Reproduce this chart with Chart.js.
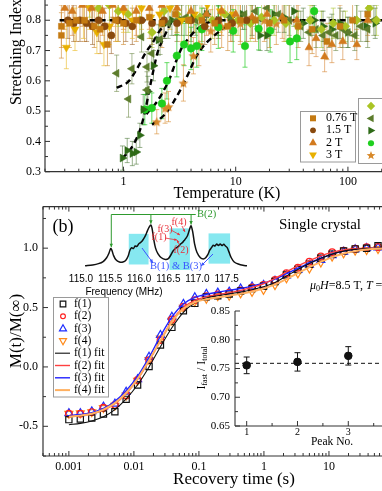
<!DOCTYPE html>
<html><head><meta charset="utf-8">
<script src="https://cdn.jsdelivr.net/npm/chart.js@4/dist/chart.umd.min.js"></script>
<style>
html,body{margin:0;padding:0;background:#fff;overflow:hidden;width:382px;height:491px;}
canvas{position:absolute;left:0;top:0;}
</style></head><body>
<canvas id="cA" width="460" height="491"></canvas>
<canvas id="cB" width="460" height="491"></canvas>
<canvas id="cS" width="460" height="491"></canvas>
<canvas id="cI" width="460" height="491"></canvas>
<script>
// ================= DATA : panel (a) =================
const aTickValsX = [1, 10, 100];
const aTickLabelsX = ['1', '10', '100'];
const aTickValsY = [0.3, 0.4, 0.5, 0.6, 0.7, 0.8];
const aTickLabelsY = ['0.3', '0.4', '0.5', '0.6', '0.7', '0.8'];
const aLegendLabels = ['0.76 T', '1.5 T', '2 T', '3 T'];

const t076 = [0.28,0.28,0.33,0.38,0.45,0.55,0.62,0.72,0.85,1.0,1.3,1.7,2.2,2.9,3.8,5.0,6.5,8.5,11,15,20,27,36,48,65,85,110,150];
const v076 = [0.75,0.78,0.79,0.80,0.80,0.78,0.77,0.72,0.80,0.79,0.80,0.81,0.79,0.82,0.80,0.80,0.79,0.78,0.80,0.80,0.79,0.80,0.78,0.77,0.73,0.78,0.80,0.82];
const e076 = [0.075,0.07,0.08,0.07,0.07,0.07,0.08,0.07,0.07,0.07,0.07,0.07,0.08,0.07,0.08,0.07,0.07,0.08,0.07,0.07,0.08,0.07,0.07,0.08,0.06,0.07,0.07,0.07];

const t15 = [0.32,0.36,0.41,0.47,0.53,0.60,0.68,0.78,0.90,1.05,1.20,1.45,1.80,2.30,3.00,4.00,5.30,7.00,9.30,12.5];
const v15 = [0.80,0.79,0.80,0.79,0.78,0.80,0.78,0.75,0.80,0.79,0.78,0.80,0.79,0.80,0.79,0.80,0.78,0.80,0.79,0.80];
const e15 = [0.06,0.06,0.07,0.06,0.06,0.07,0.06,0.06,0.07,0.06,0.06,0.06,0.07,0.06,0.06,0.07,0.06,0.06,0.06,0.07];

const t2 = [0.30,0.35,0.43,0.52,0.65,0.80,1.0,1.3,1.7,2.2,3.0,4.0,5.5,7.5,10,14,19,26,35,45,52,62,72,90,120,150];
const v2 = [0.84,0.83,0.85,0.84,0.83,0.85,0.84,0.83,0.84,0.85,0.84,0.83,0.82,0.83,0.82,0.81,0.82,0.81,0.80,0.71,0.74,0.68,0.72,0.73,0.72,0.80];
const e2 = [0.07,0.08,0.07,0.07,0.08,0.07,0.07,0.08,0.07,0.07,0.08,0.07,0.07,0.08,0.07,0.07,0.08,0.07,0.07,0.06,0.06,0.05,0.06,0.06,0.05,0.07];

const t3 = [0.31,0.37,0.44,0.50,0.58,0.67,0.75,0.88,1.0,1.2,1.45,1.75,2.1,2.6,3.3,4.3,5.6,7.3,9.5];
const v3 = [0.71,0.77,0.80,0.84,0.76,0.72,0.78,0.80,0.83,0.80,0.84,0.81,0.82,0.84,0.80,0.82,0.85,0.83,0.82];
const e3 = [0.07,0.07,0.06,0.07,0.07,0.07,0.06,0.07,0.07,0.06,0.07,0.07,0.06,0.07,0.07,0.06,0.07,0.07,0.06];

const tDia = [0.50,0.60,0.75,0.90,1.1,1.4,1.8,2.3,3.0,3.8,4.8,6.2,8.0,10.5,13.5,17,22,28,36,46,58,74,95,120,155,180];
const vDia = [0.86,0.84,0.85,0.83,0.82,0.80,0.76,0.83,0.82,0.80,0.81,0.80,0.82,0.80,0.79,0.81,0.80,0.79,0.78,0.80,0.77,0.79,0.78,0.80,0.84,0.80];
const eDia = [0.05,0.06,0.05,0.05,0.06,0.05,0.05,0.05,0.06,0.05,0.05,0.06,0.05,0.05,0.06,0.05,0.05,0.06,0.05,0.05,0.06,0.05,0.05,0.06,0.05,0.05];

const tLt = [0.87,1.11,1.19,1.45,1.62,1.62,1.79,2.12,2.5,3.0,3.6,4.4,5.5,7.0,9.0,12,15,19,24,30,38,45,52,60,68,78,90,100,115,130,150,170];
const vLt = [0.625,0.54,0.64,0.745,0.57,0.646,0.69,0.737,0.79,0.80,0.81,0.80,0.82,0.80,0.81,0.82,0.83,0.84,0.82,0.80,0.78,0.76,0.77,0.75,0.76,0.75,0.77,0.76,0.75,0.78,0.77,0.80];
const eLt = [0.06,0.06,0.05,0.05,0.06,0.05,0.05,0.05,0.05,0.05,0.06,0.05,0.05,0.05,0.06,0.05,0.05,0.05,0.06,0.05,0.05,0.05,0.06,0.05,0.05,0.05,0.06,0.05,0.05,0.05,0.06,0.05];

const tRt = [0.98,1.08,1.2,1.3,1.4,1.5,1.65,1.85,2.05,2.3,2.7,3.3,4.2,5.5,7.0,9.0,11.5,14,16.5,19,22,27,33,40,50,60,72,85,100,120,145,175];
const vRt = [0.345,0.37,0.36,0.365,0.42,0.505,0.565,0.65,0.735,0.79,0.80,0.80,0.81,0.82,0.80,0.81,0.82,0.80,0.75,0.75,0.82,0.81,0.83,0.79,0.80,0.78,0.77,0.79,0.76,0.80,0.78,0.79];
const eRt = [0.04,0.04,0.04,0.04,0.04,0.05,0.05,0.05,0.05,0.05,0.05,0.05,0.05,0.05,0.05,0.05,0.05,0.05,0.05,0.05,0.05,0.05,0.05,0.05,0.05,0.05,0.05,0.05,0.05,0.05,0.05,0.05];

const tGc = [1.55,1.79,2.2,2.44,2.99,3.47,4.0,4.5,5.0,7.0,9.5,12.1,16,20.3,30.5,35,50];
const vGc = [0.505,0.51,0.525,0.60,0.683,0.72,0.707,0.715,0.77,0.777,0.765,0.715,0.772,0.765,0.73,0.74,0.83];
const eGc = [0.05,0.05,0.05,0.06,0.07,0.07,0.07,0.07,0.07,0.07,0.07,0.07,0.07,0.07,0.07,0.07,0.07];

const tSt = [1.98,2.35,2.52,3.42,4.2,4.7,6.0,7.5,9.0,11,14,18,23,30];
const vSt = [0.465,0.51,0.515,0.593,0.683,0.72,0.765,0.78,0.80,0.79,0.81,0.80,0.79,0.80];
const eSt = [0.04,0.05,0.05,0.06,0.06,0.07,0.07,0.07,0.07,0.07,0.07,0.07,0.07,0.07];

// dashed guide curves (panel a)
const dHorT = [0.27, 350];       const dHorV = [0.8, 0.8];
const dLtT = [0.87,1.11,1.32,1.56,1.85,2.1,2.44,2.6]; const dLtV = [0.577,0.598,0.64,0.69,0.73,0.765,0.79,0.8];
const dRtT = [0.97,1.03,1.23,1.41,1.56,1.7,1.85,2.0,2.27,2.55,2.75]; const dRtV = [0.345,0.353,0.39,0.44,0.5,0.57,0.635,0.69,0.74,0.78,0.8];
const dGcT = [1.6,1.98,2.27,2.6,2.89,3.32,3.8,4.5,5.5,6.6]; const dGcV = [0.49,0.53,0.566,0.61,0.657,0.71,0.74,0.77,0.79,0.8];
const dStT = [1.8,2.35,2.79,3.32,3.8,4.35,5.17,6.33,7.8,9.5]; const dStV = [0.455,0.49,0.53,0.58,0.625,0.673,0.715,0.747,0.774,0.8];

// ================= DATA : panel (b) =================
const bTickValsX = [0.001, 0.01, 0.1, 1, 10, 100];
const bTickLabelsX = ['0.001', '0.01', '0.1', '1', '10', '100'];
const bTickValsY = [-0.5, 0, 0.5, 1.0];
const bTickLabelsY = ['-0.5', '0.0', '0.5', '1.0'];
const bLegendLabels = ['f(1)', 'f(2)', 'f(3)', 'f(4)', 'f(1) fit', 'f(2) fit', 'f(3) fit', 'f(4) fit'];

const recTime = [0.001,0.0015,0.00225,0.0034,0.0051,0.0076,0.0114,0.0171,0.0256,0.0384,0.0577,0.0865,0.13,0.195,0.292,0.438,0.657,0.985,1.48,2.22,3.33,5.0,7.5,11.2,16.8,25.3,37.9,56.8];
const mf1 = [-0.444,-0.438,-0.43,-0.397,-0.378,-0.273,-0.152,0.003,0.184,0.333,0.473,0.535,0.59,0.60,0.614,0.64,0.66,0.68,0.72,0.775,0.82,0.865,0.915,0.95,0.977,0.994,1.0,1.02];
const mf2 = [-0.394,-0.394,-0.38,-0.343,-0.32,-0.24,-0.11,0.057,0.226,0.40,0.507,0.563,0.595,0.61,0.625,0.645,0.67,0.69,0.732,0.789,0.836,0.887,0.93,0.966,0.98,0.995,1.008,1.01];
const mf3 = [-0.39,-0.39,-0.375,-0.335,-0.31,-0.21,-0.105,0.085,0.268,0.422,0.53,0.586,0.614,0.625,0.633,0.66,0.676,0.69,0.725,0.77,0.815,0.86,0.90,0.94,0.97,0.99,1.0,1.005];
const mf4 = [-0.394,-0.39,-0.38,-0.345,-0.325,-0.24,-0.115,0.06,0.24,0.39,0.50,0.549,0.575,0.597,0.60,0.62,0.633,0.65,0.69,0.747,0.789,0.83,0.88,0.93,0.957,0.98,0.985,0.994];

const fitTime = [0.001,0.0015,0.00225,0.0034,0.0051,0.0076,0.0114,0.0171,0.0256,0.0384,0.0577,0.0865,0.13,0.195,0.292,0.438,0.657,0.985,1.48,2.22,3.33,5.0,7.5,11.2,16.8,25.3,37.9,56.8,128,300];
const fit1 = [-0.487,-0.475,-0.455,-0.42,-0.36,-0.27,-0.15,0.0,0.17,0.33,0.46,0.54,0.58,0.60,0.615,0.63,0.65,0.675,0.71,0.765,0.82,0.87,0.915,0.95,0.975,0.99,0.997,1.0,1.0,1.0];
const fit2 = [-0.417,-0.41,-0.395,-0.365,-0.31,-0.225,-0.105,0.05,0.22,0.39,0.50,0.56,0.59,0.61,0.625,0.645,0.67,0.70,0.745,0.80,0.85,0.895,0.935,0.965,0.985,0.995,1.0,1.0,1.0,1.0];
const fit3 = [-0.41,-0.40,-0.385,-0.35,-0.29,-0.20,-0.08,0.08,0.26,0.42,0.53,0.585,0.612,0.63,0.645,0.66,0.68,0.705,0.74,0.785,0.83,0.875,0.915,0.95,0.975,0.99,0.998,1.0,1.0,1.0];
const fit4 = [-0.42,-0.41,-0.395,-0.36,-0.305,-0.22,-0.10,0.055,0.22,0.38,0.49,0.545,0.57,0.585,0.60,0.615,0.635,0.66,0.695,0.74,0.79,0.84,0.885,0.925,0.955,0.975,0.988,0.995,1.0,1.0];

// spectrum inset
const specTickVals = [115.0, 115.5, 116.0, 116.5, 117.0, 117.5];
const specTickLabels = ['115.0', '115.5', '116.0', '116.5', '117.0', '117.5'];
const freqMHz = [115.07,115.2,115.3,115.38,115.44,115.48,115.51,115.53,115.56,115.6,115.66,115.72,115.77,115.81,115.84,115.87,115.9,115.93,115.96,115.99,116.02,116.05,116.08,116.11,116.14,116.17,116.2,116.22,116.25,116.28,116.32,116.38,116.45,116.5,116.54,116.58,116.62,116.65,116.68,116.71,116.74,116.77,116.8,116.83,116.86,116.89,116.92,116.95,116.99,117.05,117.1,117.14,117.18,117.21,117.24,117.27,117.3,117.33,117.36,117.39,117.42,117.45,117.48,117.51,117.54,117.58,117.63,117.7,117.78,117.85];
const specInt = [0.03,0.05,0.08,0.13,0.22,0.33,0.44,0.40,0.27,0.17,0.12,0.12,0.16,0.26,0.40,0.46,0.44,0.50,0.49,0.55,0.58,0.62,0.68,0.76,0.86,0.95,1.0,0.92,0.65,0.45,0.32,0.22,0.18,0.20,0.28,0.38,0.44,0.47,0.50,0.55,0.58,0.63,0.68,0.75,0.88,0.98,0.82,0.55,0.35,0.22,0.19,0.22,0.30,0.40,0.46,0.52,0.50,0.55,0.51,0.55,0.51,0.54,0.50,0.46,0.36,0.22,0.12,0.07,0.04,0.03];
const specBoxes = [[115.82,116.16],[116.52,116.87],[117.19,117.56]];

// I_fast / I_total inset
const peakNo = [1, 2, 3];
const fastRatio = [0.7555, 0.7615, 0.772];
const fastErr = [0.0145, 0.016, 0.016];
const fastMean = [0.759];
const iTickValsY = [0.65, 0.70, 0.75, 0.80, 0.85];
const iTickLabelsY = ['0.65', '0.70', '0.75', '0.80', '0.85'];
const iTickValsX = [1, 2, 3, 4];
const iTickLabelsX = ['1', '2', '3', '4'];

// ================= helpers =================
const SERIF = '"Liberation Serif","DejaVu Serif",serif';
const SANS = '"Liberation Sans","DejaVu Sans",sans-serif';
const pts = (X, Y) => X.map((x, i) => ({x, y: Y[i]}));

function drawMarker(ctx, style, x, y, r, rot, fill, stroke, lw) {
  ctx.save(); ctx.translate(x, y); ctx.rotate((rot || 0) * Math.PI / 180);
  ctx.beginPath();
  if (style === 'rect') ctx.rect(-r * 0.75, -r * 0.75, r * 1.5, r * 1.5);
  else if (style === 'circle') ctx.arc(0, 0, r * 0.85, 0, Math.PI * 2);
  else if (style === 'triangle') { ctx.moveTo(0, -r); ctx.lineTo(r * 0.9, r * 0.6); ctx.lineTo(-r * 0.9, r * 0.6); ctx.closePath(); }
  else if (style === 'rectRot') { ctx.moveTo(0, -r); ctx.lineTo(r, 0); ctx.lineTo(0, r); ctx.lineTo(-r, 0); ctx.closePath(); }
  else if (style === 'star') { for (let i = 0; i < 10; i++) { const a = -Math.PI / 2 + i * Math.PI / 5; const rr = i % 2 ? r * 0.45 : r * 1.05; ctx.lineTo(Math.cos(a) * rr, Math.sin(a) * rr); } ctx.closePath(); }
  if (fill) { ctx.fillStyle = fill; ctx.fill(); }
  if (stroke) { ctx.strokeStyle = stroke; ctx.lineWidth = lw; ctx.stroke(); }
  ctx.restore();
}
function starImage(color) {
  const c = document.createElement('canvas'); c.width = 11; c.height = 11;
  drawMarker(c.getContext('2d'), 'star', 5.5, 6, 5, 0, color, null, 0);
  return c;
}
function text(ctx, s, x, y, font, color, align, rot) {
  ctx.save(); ctx.font = font; ctx.fillStyle = color || '#000';
  ctx.textAlign = align || 'center'; ctx.textBaseline = 'middle';
  ctx.translate(x, y); if (rot) ctx.rotate(rot); ctx.fillText(s, 0, 0); ctx.restore();
}
function richText(ctx, segs, x, y, color, align, rot) {
  ctx.save(); ctx.fillStyle = color || '#000'; ctx.textBaseline = 'middle';
  ctx.translate(x, y); if (rot) ctx.rotate(rot);
  let w = 0; segs.forEach(s => { ctx.font = s.f; w += ctx.measureText(s.t).width; });
  let cx = align === 'left' ? 0 : -w / 2;
  segs.forEach(s => { ctx.font = s.f; ctx.textAlign = 'left'; ctx.fillText(s.t, cx, s.dy || 0); cx += ctx.measureText(s.t).width; });
  ctx.restore();
}
function line(ctx, x1, y1, x2, y2, color, lw) {
  ctx.save(); ctx.strokeStyle = color; ctx.lineWidth = lw; ctx.beginPath(); ctx.moveTo(x1, y1); ctx.lineTo(x2, y2); ctx.stroke(); ctx.restore();
}
function arrow(ctx, x1, y1, x2, y2, color, lw, head) {
  line(ctx, x1, y1, x2, y2, color, lw);
  if (head) {
    const a = Math.atan2(y2 - y1, x2 - x1);
    ctx.save(); ctx.fillStyle = color; ctx.beginPath(); ctx.moveTo(x2, y2);
    ctx.lineTo(x2 - head * Math.cos(a - 0.45), y2 - head * Math.sin(a - 0.45));
    ctx.lineTo(x2 - head * Math.cos(a + 0.45), y2 - head * Math.sin(a + 0.45));
    ctx.closePath(); ctx.fill(); ctx.restore();
  }
}
function logTicks(min, max) {
  const r = [];
  for (let e = Math.floor(Math.log10(min)); e <= Math.ceil(Math.log10(max)); e++)
    for (let k = 1; k < 10; k++) { const v = k * Math.pow(10, e); if (v >= min && v <= max) r.push([v, k === 1]); }
  return r;
}
const errorBars = {
  id: 'errorBars',
  beforeDatasetsDraw(chart) {
    const ctx = chart.ctx, xs = chart.scales.x, ys = chart.scales.y, a = chart.chartArea;
    ctx.save(); ctx.beginPath(); ctx.rect(a.left - 5, a.top, a.right - a.left + 10, a.bottom - a.top + 5); ctx.clip();
    chart.data.datasets.forEach(ds => {
      if (!ds.errs) return;
      ctx.strokeStyle = ds.errColor; ctx.lineWidth = ds.errWidth || 1;
      ds.data.forEach((p, j) => {
        const e = ds.errs[j], x = xs.getPixelForValue(p.x);
        const y1 = ys.getPixelForValue(p.y - e), y2 = ys.getPixelForValue(p.y + e), c = ds.capW || 2.5;
        ctx.beginPath(); ctx.moveTo(x, y1); ctx.lineTo(x, y2);
        ctx.moveTo(x - c, y1); ctx.lineTo(x + c, y1); ctx.moveTo(x - c, y2); ctx.lineTo(x + c, y2); ctx.stroke();
      });
    });
    ctx.restore();
  }
};
function makeChart(id, pad, xs, ys, datasets, plugins) {
  return new Chart(document.getElementById(id), {
    type: 'scatter',
    data: {datasets},
    options: {
      responsive: false, animation: false, devicePixelRatio: 1, events: [],
      layout: {padding: pad},
      plugins: {legend: {display: false}, tooltip: {enabled: false}, title: {display: false}},
      scales: {x: Object.assign({display: false}, xs), y: Object.assign({display: false}, ys)}
    },
    plugins: [errorBars].concat(plugins || [])
  });
}

// ================= panel (a) =================
const aSeries = [
  {T: t076, V: v076, E: e076, style: 'rect', rot: 0, r: 4.2, col: '#C47A12', ec: 'rgba(205,135,45,0.6)'},
  {T: t15, V: v15, E: e15, style: 'circle', rot: 0, r: 3.6, col: '#8A4A0E', ec: 'rgba(150,90,30,0.55)'},
  {T: t2, V: v2, E: e2, style: 'triangle', rot: 0, r: 4.6, col: '#D27A1E', ec: 'rgba(215,135,55,0.6)'},
  {T: t3, V: v3, E: e3, style: 'triangle', rot: 180, r: 4.6, col: '#E8B000', ec: 'rgba(235,190,50,0.65)'},
  {T: tDia, V: vDia, E: eDia, style: 'rectRot', rot: 0, r: 4.4, col: '#AAC424', ec: 'rgba(170,196,50,0.6)'},
  {T: tLt, V: vLt, E: eLt, style: 'triangle', rot: -90, r: 4.6, col: '#5C7C2C', ec: 'rgba(100,130,60,0.55)'},
  {T: tRt, V: vRt, E: eRt, style: 'triangle', rot: 90, r: 4.6, col: '#2E6A17', ec: 'rgba(70,115,50,0.55)'},
  {T: tGc, V: vGc, E: eGc, style: 'circle', rot: 0, r: 3.8, col: '#1FD01F', ec: 'rgba(40,205,40,0.7)'},
  {T: tSt, V: vSt, E: eSt, style: 'star', rot: 0, r: 4.6, col: '#D8892A', ec: 'rgba(215,140,50,0.6)'}
];
const aDatasets = aSeries.map(s => ({
  data: pts(s.T, s.V), errs: s.E, errColor: s.ec, capW: 2.5,
  pointStyle: s.style === 'star' ? starImage(s.col) : s.style, rotation: s.rot,
  pointRadius: s.r, backgroundColor: s.col, borderColor: s.col, borderWidth: 0.5, showLine: false
}));
[[dHorT, dHorV], [dLtT, dLtV], [dRtT, dRtV], [dGcT, dGcV], [dStT, dStV]].forEach(([T, V]) => {
  aDatasets.push({type: 'line', data: pts(T, V), borderColor: '#000', borderWidth: 2.4, borderDash: [6, 4],
    pointRadius: 0, fill: false, cubicInterpolationMode: 'monotone'});
});
const aDecor = {
  id: 'aDecor',
  afterDraw(chart) {
    const ctx = chart.ctx, xs = chart.scales.x, ys = chart.scales.y, a = chart.chartArea;
    const ax = '#333';
    line(ctx, a.left, 0, a.left, a.bottom, ax, 1.2);
    line(ctx, a.left, a.bottom, a.right, a.bottom, ax, 1.2);
    logTicks(0.2, 350).forEach(([v, maj]) => { const x = xs.getPixelForValue(v); line(ctx, x, a.bottom, x, a.bottom - (maj ? 5 : 3), ax, 1); });
    for (let k = 0; k < 12; k++) { const v = 0.3 + k * 0.05; const y = ys.getPixelForValue(v); line(ctx, a.left, y, a.left + (k % 2 ? 3 : 5), y, ax, 1); }
    aTickValsX.forEach((v, i) => text(ctx, aTickLabelsX[i], xs.getPixelForValue(v), a.bottom + 10, '12px ' + SERIF, '#000'));
    aTickValsY.forEach((v, i) => text(ctx, aTickLabelsY[i], a.left - 4, ys.getPixelForValue(v), '12px ' + SERIF, '#000', 'right'));
    text(ctx, 'Temperature (K)', 227, 194, '16px ' + SERIF, '#000');
    text(ctx, 'Stretching Index', 17, 52, '16px ' + SERIF, '#000', 'center', -Math.PI / 2);
    // legend boxes
    ctx.save(); ctx.strokeStyle = '#9a9a9a'; ctx.lineWidth = 1;
    ctx.strokeRect(300.5, 111.5, 55, 50.5); ctx.strokeRect(358.5, 98.5, 60, 65); ctx.restore();
    const ly1 = [118.3, 130.3, 142.7, 155];
    for (let i = 0; i < 4; i++) {
      const s = aSeries[i];
      drawMarker(ctx, s.style, 313, ly1[i], s.r * 0.95, s.rot, s.col);
      text(ctx, aLegendLabels[i], 326, ly1[i], '12px ' + SERIF, '#000', 'left');
    }
    const ly2 = [106, 118.4, 130.6, 143.2, 155.6];
    for (let i = 4; i < 9; i++) { const s = aSeries[i]; drawMarker(ctx, s.style, 371, ly2[i - 4], s.r * 0.95, s.rot, s.col); }
  }
};
makeChart('cA', {left: 45, right: 51, top: 0, bottom: 319.3},
  {type: 'logarithmic', min: 0.2, max: 350}, {type: 'linear', min: 0.3, max: 0.85}, aDatasets, [aDecor]);

// ================= panel (b) main =================
const bMarkers = [
  {V: mf1, style: 'rect', rot: 0, r: 4.4, col: '#111111'},
  {V: mf2, style: 'circle', rot: 0, r: 3.3, col: '#FF2020'},
  {V: mf3, style: 'triangle', rot: 0, r: 4.6, col: '#1E2EFF'},
  {V: mf4, style: 'triangle', rot: 180, r: 4.6, col: '#FF8A1A'}
];
const bFits = [
  {V: fit1, col: '#111111', w: 1.1},
  {V: fit2, col: '#FF4040', w: 1.4},
  {V: fit3, col: '#2222FF', w: 1.4},
  {V: fit4, col: '#FFB060', w: 2.0}
];
const bDatasets = [];
[3, 0, 1, 2].forEach(i => bDatasets.push({type: 'line', data: pts(fitTime, bFits[i].V), borderColor: bFits[i].col,
  borderWidth: bFits[i].w, pointRadius: 0, fill: false, cubicInterpolationMode: 'monotone'}));
bMarkers.forEach(m => bDatasets.push({data: pts(recTime, m.V), pointStyle: m.style, rotation: m.rot, pointRadius: m.r,
  borderColor: m.col, backgroundColor: 'rgba(255,255,255,0)', borderWidth: 1.2, showLine: false}));
const bDecor = {
  id: 'bDecor',
  afterDraw(chart) {
    const ctx = chart.ctx, xs = chart.scales.x, ys = chart.scales.y, a = chart.chartArea;
    const ax = '#333';
    line(ctx, a.left, a.top, a.left, a.bottom, ax, 1.2);
    line(ctx, a.left, a.bottom, a.right, a.bottom, ax, 1.2);
    line(ctx, a.left, a.top, a.right, a.top, ax, 1.2);
    logTicks(0.0004, 300).forEach(([v, maj]) => {
      const x = xs.getPixelForValue(v), L = maj ? 5 : 3;
      line(ctx, x, a.bottom, x, a.bottom - L, ax, 1); line(ctx, x, a.top, x, a.top + L, ax, 1);
    });
    for (let k = -3; k <= 5; k++) { const y = ys.getPixelForValue(k * 0.25); line(ctx, a.left, y, a.left + (k % 2 ? 3 : 5), y, ax, 1); }
    bTickValsX.forEach((v, i) => text(ctx, bTickLabelsX[i], xs.getPixelForValue(v), a.bottom + 11, '12px ' + SERIF, '#000'));
    bTickValsY.forEach((v, i) => text(ctx, bTickLabelsY[i], a.left - 5, ys.getPixelForValue(v), '12px ' + SERIF, '#000', 'right'));
    text(ctx, 'Recovery time (s)', 234, 480, '17px ' + SERIF, '#000');
    text(ctx, 'M(t)/M(\u221E)', 17, 331, '17px ' + SERIF, '#000', 'center', -Math.PI / 2);
    text(ctx, '(b)', 63, 227, '18px ' + SERIF, '#000');
    text(ctx, 'Single crystal', 320, 225, '15px ' + SERIF, '#000');
    richText(ctx, [
      {t: '\u03BC', f: 'italic 12px ' + SERIF}, {t: '0', f: '8px ' + SERIF, dy: 3},
      {t: 'H', f: 'italic 12px ' + SERIF}, {t: '=8.5 T, ', f: '12px ' + SERIF},
      {t: 'T', f: 'italic 12px ' + SERIF}, {t: ' =', f: '12px ' + SERIF}], 310, 286, '#000', 'left');
    // legend
    ctx.save(); ctx.strokeStyle = '#9a9a9a'; ctx.lineWidth = 1; ctx.fillStyle = '#fff';
    ctx.fillRect(53.5, 297.5, 55, 99.5); ctx.strokeRect(53.5, 297.5, 55, 99.5); ctx.restore();
    const ly = [304, 316.3, 328.6, 340.9, 353.2, 365.5, 377.8, 390.1];
    for (let i = 0; i < 4; i++) {
      const m = bMarkers[i];
      drawMarker(ctx, m.style, 63, ly[i], m.r * 0.85, m.rot, null, m.col, 1.2);
      text(ctx, bLegendLabels[i], 74, ly[i], '11.5px ' + SERIF, '#000', 'left');
    }
    for (let i = 0; i < 4; i++) {
      line(ctx, 55, ly[i + 4], 70, ly[i + 4], bFits[i].col, bFits[i].w);
      text(ctx, bLegendLabels[i + 4], 74, ly[i + 4], '11.5px ' + SERIF, '#000', 'left');
    }
  }
};
makeChart('cB', {left: 43, right: 35, top: 206.6, bottom: 35},
  {type: 'logarithmic', min: 0.0004, max: 300}, {type: 'linear', min: -0.75, max: 1.35}, bDatasets, [bDecor]);

// ================= spectrum inset =================
const sDecor = {
  id: 'sDecor',
  beforeDatasetsDraw(chart) {
    const ctx = chart.ctx, xs = chart.scales.x, ys = chart.scales.y;
    ctx.save(); ctx.fillStyle = '#86E8F0';
    const yb = [[0.79, 0.06], [0.92, -0.07], [0.80, 0.08]];
    specBoxes.forEach((b, i) => {
      const x1 = xs.getPixelForValue(b[0]), x2 = xs.getPixelForValue(b[1]);
      const y1 = ys.getPixelForValue(yb[i][0]), y2 = ys.getPixelForValue(yb[i][1]);
      ctx.fillRect(x1, y1, x2 - x1, y2 - y1);
    });
    ctx.restore();
  },
  afterDatasetsDraw(chart) {
    const ctx = chart.ctx, xs = chart.scales.x, ys = chart.scales.y, a = chart.chartArea;
    const X = v => xs.getPixelForValue(v), Y = v => ys.getPixelForValue(v);
    specTickVals.forEach((v, i) => text(ctx, specTickLabels[i], X(v), 279, '10px ' + SANS, '#000'));
    text(ctx, 'Frequency (MHz)', 124, 292.5, '10px ' + SANS, '#000');
    // B(2) green
    const g = '#2E9A2E', gy = Y(1.25);
    line(ctx, X(115.52), gy, X(116.97), gy, g, 1);
    arrow(ctx, X(115.52), gy, X(115.52), Y(0.47), g, 1, 4);
    arrow(ctx, X(116.2), gy, X(116.2), Y(1.03), g, 1, 4);
    arrow(ctx, X(116.89), gy, X(116.89), Y(1.01), g, 1, 4);
    text(ctx, 'B(2)', X(116.99), gy, '10.5px ' + SERIF, g, 'left');
    // red f(n) labels
    const r = '#E8303A';
    text(ctx, 'f(4)', 179, 222, '10px ' + SERIF, r);
    text(ctx, 'f(3)', 165, 229, '10px ' + SERIF, r);
    text(ctx, 'f(1)', 159, 237, '10px ' + SERIF, r);
    text(ctx, 'f(2)', 181, 250, '10px ' + SERIF, r);
    arrow(ctx, 182, 226, 185, 232, r, 0.8, 3);
    arrow(ctx, 171, 230, 180, 235, r, 0.8, 3);
    arrow(ctx, 165, 238, 177, 240, r, 0.8, 3);
    arrow(ctx, 180, 246, 177, 240, r, 0.8, 3);
    // blue B(1)&B(3)
    const b = '#3A55FF';
    text(ctx, 'B(1) & B(3)', 176, 266.5, '10.5px ' + SERIF, b);
    arrow(ctx, 142, 248, 153, 263, b, 1, 4);
    arrow(ctx, 213, 254, 201, 266, b, 1, 4);
  }
};
makeChart('cS', {left: 81, right: 213, top: 212.4, bottom: 219.8},
  {type: 'linear', min: 115.0, max: 117.85}, {type: 'linear', min: -0.1, max: 1.3},
  [{type: 'line', data: pts(freqMHz, specInt), borderColor: '#111', borderWidth: 1.5, pointRadius: 0, fill: false, tension: 0.3}],
  [sDecor]);

// ================= I_fast / I_total inset =================
const iDecor = {
  id: 'iDecor',
  afterDraw(chart) {
    const ctx = chart.ctx, xs = chart.scales.x, ys = chart.scales.y, a = chart.chartArea;
    const ax = '#333';
    line(ctx, a.left, a.top, a.left, a.bottom, ax, 1.1);
    line(ctx, a.left, a.bottom, a.right, a.bottom, ax, 1.1);
    for (let k = 0; k <= 8; k++) { const y = ys.getPixelForValue(0.65 + k * 0.025); line(ctx, a.left, y, a.left + (k % 2 ? 3 : 5), y, ax, 1); }
    for (let k = 2; k <= 8; k++) { const x = xs.getPixelForValue(k * 0.5); line(ctx, x, a.bottom, x, a.bottom - (k % 2 ? 3 : 5), ax, 1); }
    iTickValsY.forEach((v, i) => text(ctx, iTickLabelsY[i], a.left - 5, ys.getPixelForValue(v), '11px ' + SERIF, '#000', 'right'));
    iTickValsX.forEach((v, i) => text(ctx, iTickLabelsX[i], xs.getPixelForValue(v), 432, '10px ' + SERIF, '#000'));
    text(ctx, 'Peak No.', 332, 442, '11.5px ' + SERIF, '#000');
    richText(ctx, [{t: 'I', f: '12px ' + SERIF}, {t: 'fast', f: '8px ' + SERIF, dy: 3}, {t: ' / I', f: '12px ' + SERIF},
      {t: 'total', f: '8px ' + SERIF, dy: 3}], 202, 368, '#000', 'center', -Math.PI / 2);
  }
};
makeChart('cI', {left: 235, right: 35.5, top: 311, bottom: 65},
  {type: 'linear', min: 0.77, max: 4.5}, {type: 'linear', min: 0.65, max: 0.85},
  [
    {type: 'line', data: [{x: 0.77, y: fastMean[0]}, {x: 4.5, y: fastMean[0]}], borderColor: '#111', borderWidth: 1, borderDash: [4, 3], pointRadius: 0, fill: false},
    {data: pts(peakNo, fastRatio), errs: fastErr, errColor: '#111', capW: 3, pointStyle: 'circle', pointRadius: 3.8,
      backgroundColor: '#111', borderColor: '#111', showLine: false}
  ], [iDecor]);
</script>
</body></html>
